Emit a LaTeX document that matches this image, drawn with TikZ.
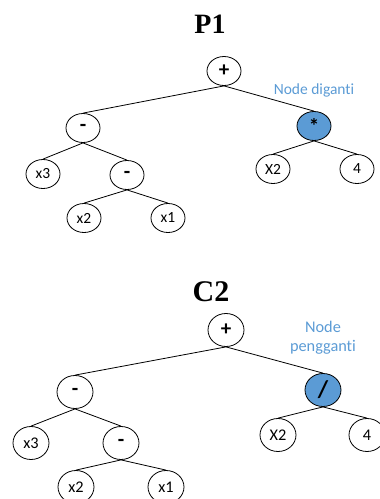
\documentclass[tikz,border=0pt]{standalone}
\usepackage{fontspec}
\setmainfont[Ligatures=NoCommon]{Carlito}
\newfontfamily\titlefont{Liberation Serif}
\usetikzlibrary{shapes.geometric}
\definecolor{nodeblue}{HTML}{5B9BD5}
\tikzset{
  tnode/.style={ellipse, draw=black, line width=0.8pt, inner sep=0pt,
    minimum width=34pt, minimum height=29pt, font=\fontsize{15.5}{18}\selectfont},
  bnode/.style={tnode, minimum width=36pt, minimum height=33pt, font=\fontsize{16.3}{19}\selectfont},
  op/.style={font=\fontsize{21}{24}\selectfont\bfseries},
  hl/.style={fill=nodeblue},
  edge/.style={draw=black, line width=0.8pt},
  ttl/.style={font=\titlefont\bfseries\fontsize{28}{32}\selectfont},
  lbl/.style={text=nodeblue, align=center}
}
\begin{document}
\begin{tikzpicture}[x=1pt,y=-1pt]
\useasboundingbox (0,0) rectangle (380,499);
% ---- P1 ----
\node[ttl] (t1) at (210,24) {P1};
\node[tnode,op] (a0) at (224,71) {+};
\node[tnode,op] (a1) at (83,128) {-};
\node[tnode,hl,op] (a2) at (314,126) {*};
\node[tnode] (a3) at (43,174) {x3};
\node[tnode,op] (a4) at (127,175) {-};
\node[tnode] (a5) at (273,169) {X2};
\node[tnode] (a6) at (357,169) {4};
\node[tnode] (a7) at (84,218) {x2};
\node[tnode] (a8) at (168,218) {x1};
\node[lbl, font=\fontsize{15.5}{18}\selectfont] (l1) at (314,90) {Node diganti};
\draw[edge] (a0.south) -- (a1.north);
\draw[edge] (a0.south) -- (a2.north);
\draw[edge] (a1.south) -- (a3.north);
\draw[edge] (a1.south) -- (a4.north);
\draw[edge] (a2.south) -- (a5.north);
\draw[edge] (a2.south) -- (a6.north);
\draw[edge] (a4.south) -- (a7.north);
\draw[edge] (a4.south) -- (a8.north);
% ---- C2 ----
\node[ttl, font=\titlefont\bfseries\fontsize{30}{34}\selectfont] (t2) at (211,292) {C2};
\node[bnode,op] (b0) at (226,330) {+};
\node[bnode,op] (b1) at (75,392) {-};
\node[bnode,hl] (b2) at (323,390) {\fontsize{24}{26}\selectfont\bfseries /};
\node[bnode] (b3) at (31,443) {x3};
\node[bnode,op] (b4) at (121,443) {-};
\node[bnode] (b5) at (278,435) {X2};
\node[bnode] (b6) at (367,435) {4};
\node[bnode] (b7) at (76,487) {x2};
\node[bnode] (b8) at (166,487) {x1};
\node[lbl, font=\fontsize{16.3}{19}\selectfont] (l2) at (323,338) {Node\\pengganti};
\draw[edge] (b0.south) -- (b1.north);
\draw[edge] (b0.south) -- (b2.north);
\draw[edge] (b1.south) -- (b3.north);
\draw[edge] (b1.south) -- (b4.north);
\draw[edge] (b2.south) -- (b5.north);
\draw[edge] (b2.south) -- (b6.north);
\draw[edge] (b4.south) -- (b7.north);
\draw[edge] (b4.south) -- (b8.north);
\end{tikzpicture}
\end{document}
